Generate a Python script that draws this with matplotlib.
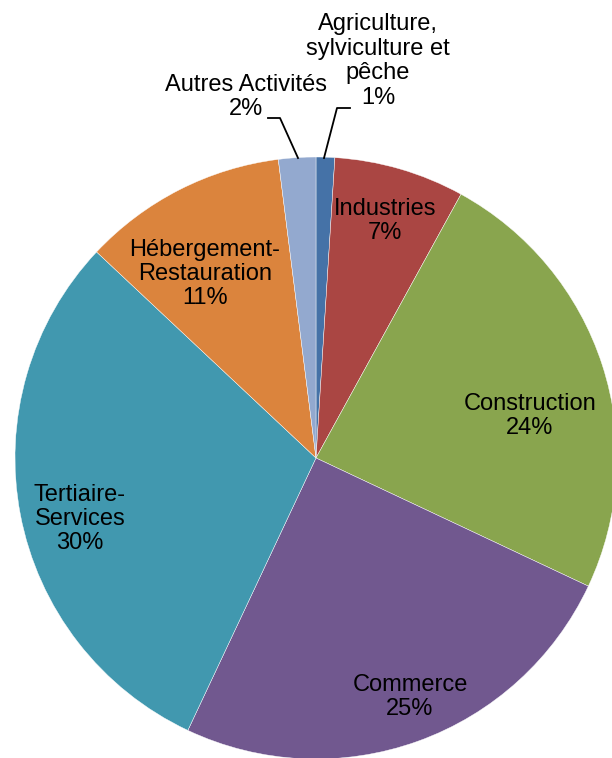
import matplotlib.pyplot as plt

plt.rcParams['font.family'] = ['Liberation Sans', 'DejaVu Sans']

labels = ["Agriculture,\nsylviculture et\npêche", "Industries", "Construction",
          "Commerce", "Tertiaire-\nServices", "Hébergement-\nRestauration",
          "Autres Activités"]
values = [1, 7, 24, 25, 30, 11, 2]
colors = ['#4572A7', '#AA4643', '#89A54E', '#71588F', '#4198AF', '#DB843D', '#93A9CF']

W, H = 612, 758
fig = plt.figure(figsize=(W / 100, H / 100), dpi=100)
ax = fig.add_axes([0, 0, 1, 1])

cx, cy, r = 316, H - 458, 301
wedges, _ = ax.pie(values, colors=colors, startangle=90, counterclock=False,
                   center=(cx, cy), radius=r, frame=True,
                   wedgeprops=dict(edgecolor='white', linewidth=0.3))
ax.set_xlim(0, W)
ax.set_ylim(0, H)
ax.set_aspect('equal')
ax.axis('off')

fs = 17
# label positions in pixel coords (x, y from top)
pos = [(378, 61), (385, 221), (530, 416), (410, 697), (80, 519), (205, 274), (246, 97)]
for lab, v, (x, y) in zip(labels, values, pos):
    ax.text(x, H - y, f"{lab}\n{v}%", ha='center', va='center', fontsize=fs,
            linespacing=1.14)

# leader lines for small slices
ax.plot([268, 280, 298], [H - 118, H - 118, H - 158], color='black', lw=1.3)
ax.plot([350, 337, 324], [H - 108, H - 108, H - 158], color='black', lw=1.3)

fig.savefig('out.png', dpi=100)
